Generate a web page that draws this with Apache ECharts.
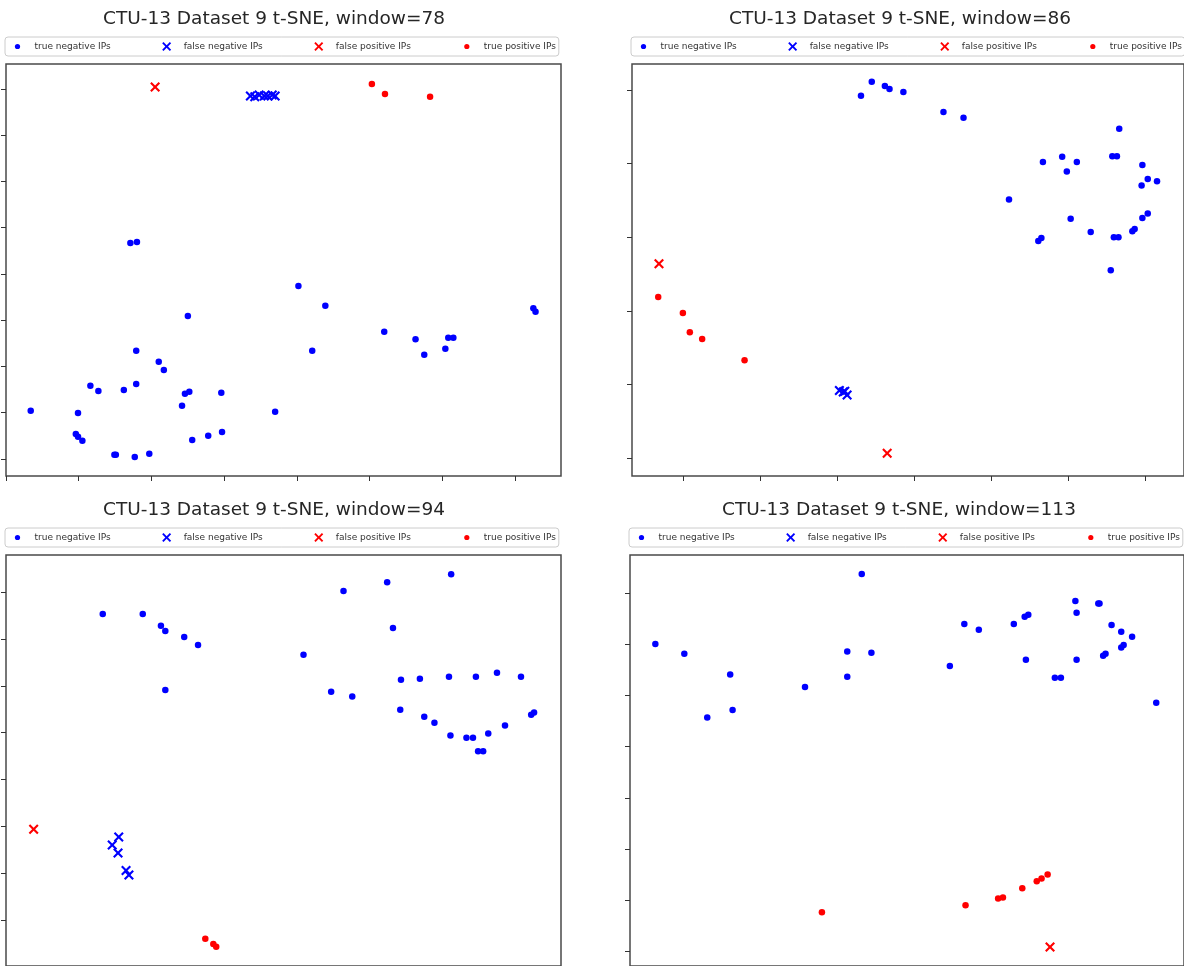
<!DOCTYPE html>
<html>
<head>
<meta charset="utf-8">
<title>CTU-13 Dataset 9 t-SNE</title>
<script src="https://cdn.jsdelivr.net/npm/echarts@6/dist/echarts.min.js"></script>
<style>
  html, body { margin: 0; padding: 0; background: #ffffff; }
  #chart { width: 1184px; height: 966px; }
</style>
</head>
<body>
<div id="chart"></div>
<script>
// ---- t-SNE embeddings per window size ----
const windows = [78, 86, 94, 113];
const classNames = ['true negative IPs', 'false negative IPs', 'false positive IPs', 'true positive IPs'];

const w78TrueNeg = [[-36.6,-29.6],[-30.1,-30.1],[-30.4,-34.6],[-30.1,-35.2],[-29.5,-36.1],[-28.4,-24.2],[-27.3,-25.3],[-25.1,-39.1],[-24.9,-39.1],[-23.8,-25.1],[-22.3,-39.6],[-22.1,-23.8],[-22.1,-16.6],[-22.9,6.7],[-22.0,6.9],[-20.3,-38.9],[-19.0,-19.0],[-18.3,-20.8],[-15.8,-28.5],[-15.4,-25.9],[-14.8,-25.5],[-15.0,-9.1],[-14.4,-35.9],[-12.2,-35.0],[-10.4,-25.7],[-10.3,-34.2],[-3.0,-29.8],[0.2,-2.6],[3.9,-6.9],[2.1,-16.6],[12.0,-12.5],[16.3,-14.1],[17.5,-17.5],[20.4,-16.2],[20.8,-13.8],[21.5,-13.8],[32.5,-7.4],[32.8,-8.2]];
const w78FalseNeg = [[-6.4,38.5],[-5.8,38.3],[-5.2,38.7],[-4.5,38.5],[-4.0,38.5],[-3.4,38.7],[-3.0,38.5]];
const w78FalsePos = [[-19.5,40.4]];
const w78TruePos = [[10.3,41.1],[12.1,38.9],[18.3,38.3]];

const w86TrueNeg = [[-6.9,29.2],[-5.5,31.1],[-3.8,30.5],[-3.2,30.1],[-1.4,29.7],[3.8,27.0],[6.4,26.2],[12.3,15.1],[16.1,9.5],[16.5,9.9],[16.7,20.2],[19.2,20.9],[19.8,18.9],[21.1,20.2],[20.3,12.5],[22.9,10.7],[25.5,5.5],[25.9,10.0],[26.5,10.0],[25.7,21.0],[26.3,21.0],[26.6,24.7],[28.3,10.8],[28.6,11.1],[29.6,12.6],[30.3,13.2],[29.6,19.8],[29.5,17.0],[30.3,17.9],[31.5,17.6]];
const w86FalseNeg = [[-9.7,-10.8],[-9.2,-11.0],[-8.7,-11.4],[-9.0,-10.9]];
const w86FalsePos = [[-33.1,6.4],[-3.5,-19.3]];
const w86TruePos = [[-33.2,1.9],[-30.0,-0.3],[-29.1,-2.9],[-27.5,-3.8],[-22.0,-6.7]];

const w94TrueNeg = [[-26.7,35.3],[-21.2,35.3],[-18.7,32.8],[-18.1,31.7],[-15.5,30.4],[-13.6,28.7],[-18.1,19.1],[0.9,26.6],[6.4,40.2],[12.4,42.1],[13.2,32.3],[21.2,43.8],[4.7,18.7],[7.6,17.7],[14.3,21.3],[16.9,21.5],[20.9,21.9],[24.6,21.9],[27.5,22.8],[30.8,21.9],[14.2,14.9],[17.5,13.4],[18.9,12.1],[21.1,9.4],[23.3,8.9],[24.2,8.9],[24.9,6.0],[25.6,6.0],[26.3,9.8],[28.6,11.5],[32.2,13.8],[32.6,14.3]];
const w94FalseNeg = [[-24.5,-12.3],[-25.4,-14.0],[-24.6,-15.7],[-23.5,-19.4],[-23.1,-20.4]];
const w94FalsePos = [[-36.2,-10.6]];
const w94TruePos = [[-12.6,-34.0],[-11.5,-35.1],[-11.1,-35.7]];

const w113TrueNeg = [[-18.5,30.1],[-16.1,28.2],[-12.3,24.1],[-14.2,15.7],[-12.1,17.2],[-6.1,21.7],[-2.6,28.6],[-2.6,23.7],[-0.6,28.4],[-1.4,43.8],[5.9,25.8],[7.1,34.0],[8.3,32.9],[11.2,34.0],[12.1,35.4],[12.4,35.8],[12.2,27.0],[14.6,23.5],[15.1,23.5],[16.3,38.5],[16.4,36.2],[16.4,27.0],[18.2,38.0],[18.3,38.0],[18.6,27.8],[18.8,28.2],[19.3,33.8],[20.1,32.5],[20.3,29.9],[20.1,29.4],[21.0,31.5],[23.0,18.6]];
const w113FalseNeg = [];
const w113FalsePos = [[14.2,-29.2]];
const w113TruePos = [[-4.7,-22.4],[7.2,-21.0],[9.9,-19.7],[10.3,-19.5],[11.9,-17.7],[13.1,-16.3],[13.5,-15.8],[14.0,-15.0]];

// axis extents and tick positions (tick labels are not shown)
const xRanges = [[-40, 36.3], [-36.6, 35.0], [-40, 36.3], [-20.6, 25.3]];
const yRanges = [[-43.7, 45.4], [-22.4, 33.5], [-39.8, 47.9], [-32.9, 47.5]];
const xTicks = [[-40,-30,-20,-10,0,10,20,30], [-30,-20,-10,0,10,20,30], [-40,-30,-20,-10,0,10,20,30], [-20,-10,0,10,20]];
const yTicks = [[-40,-30,-20,-10,0,10,20,30,40], [-20,-10,0,10,20,30], [-30,-20,-10,0,10,20,30,40], [-30,-20,-10,0,10,20,30,40]];

const panelData = [
  [w78TrueNeg, w78FalseNeg, w78FalsePos, w78TruePos],
  [w86TrueNeg, w86FalseNeg, w86FalsePos, w86TruePos],
  [w94TrueNeg, w94FalseNeg, w94FalsePos, w94TruePos],
  [w113TrueNeg, w113FalseNeg, w113FalsePos, w113TruePos]
];

// ---- panel placement ----
const panelBoxes = [
  { left: 6,   top: 64,  width: 555, height: 412 },
  { left: 632, top: 64,  width: 555, height: 412 },
  { left: 6,   top: 555, width: 555, height: 412 },
  { left: 630, top: 555, width: 555, height: 412 }
];
const titleCenters = [274, 900, 274, 899];

const BLUE = '#0000ff';
const RED = '#ff0000';
const crossIcon = 'path://M1.5,0L5,3.5L8.5,0L10,1.5L6.5,5L10,8.5L8.5,10L5,6.5L1.5,10L0,8.5L3.5,5L0,1.5Z';
// small dot inside a 10x10 frame, so legend dots stay smaller than legend crosses
const legendDot = 'path://M0,0M10,10M5,2.1A2.9,2.9,0,1,1,5,7.9A2.9,2.9,0,1,1,5,2.1Z';
const classStyle = [
  { symbol: 'circle', legendIcon: legendDot, size: 6.5, color: BLUE },
  { symbol: crossIcon, legendIcon: crossIcon, size: 10, color: BLUE },
  { symbol: crossIcon, legendIcon: crossIcon, size: 10, color: RED },
  { symbol: 'circle', legendIcon: legendDot, size: 6.5, color: RED }
];

const FONT = 'DejaVu Sans';
const option = {
  animation: false,
  backgroundColor: '#ffffff',
  title: [], legend: [], grid: [], xAxis: [], yAxis: [], series: []
};

panelBoxes.forEach((box, i) => {
  option.title.push({
    text: 'CTU-13 Dataset 9 t-SNE, window=' + windows[i],
    left: titleCenters[i],
    top: box.top - 56,
    textAlign: 'center',
    padding: 0,
    textStyle: { fontFamily: FONT, fontSize: 18.5, fontWeight: 'normal', color: '#262626', lineHeight: 22 }
  });
  option.legend.push({
    left: box.left - 1,
    top: box.top - 27,
    width: 560,
    orient: 'horizontal',
    padding: [4, 1, 4, 8],
    itemWidth: 24,
    itemHeight: 9,
    itemGap: 51.5,
    selectedMode: false,
    backgroundColor: '#ffffff',
    borderColor: '#cccccc',
    borderWidth: 1,
    borderRadius: 3,
    data: classNames.map((n, k) => ({ name: n, icon: classStyle[k].legendIcon })),
    formatter: '{t|{name}}',
    textStyle: {
      fontFamily: FONT, fontSize: 9, color: '#333333', lineHeight: 11,
      rich: { t: { width: 74, fontFamily: FONT, fontSize: 9, color: '#333333', lineHeight: 11 } }
    }
  });
  option.grid.push({
    left: box.left, top: box.top, width: box.width, height: box.height,
    show: true, borderColor: '#4a4a4a', borderWidth: 1.5, backgroundColor: 'transparent'
  });
  const tickStyle = { show: true, inside: false, length: 5, lineStyle: { color: '#333333', width: 1 } };
  option.xAxis.push({
    type: 'value', gridIndex: i, min: xRanges[i][0], max: xRanges[i][1],
    axisLine: { show: false, onZero: false },
    axisTick: Object.assign({ customValues: xTicks[i] }, tickStyle),
    axisLabel: { show: false }, splitLine: { show: false }
  });
  option.yAxis.push({
    type: 'value', gridIndex: i, min: yRanges[i][0], max: yRanges[i][1],
    axisLine: { show: false, onZero: false },
    axisTick: Object.assign({ customValues: yTicks[i] }, tickStyle),
    axisLabel: { show: false }, splitLine: { show: false }
  });
  classNames.forEach((name, k) => {
    option.series.push({
      type: 'scatter', name: name, xAxisIndex: i, yAxisIndex: i,
      symbol: classStyle[k].symbol, symbolSize: classStyle[k].size,
      itemStyle: { color: classStyle[k].color, opacity: 1 },
      emphasis: { disabled: true },
      data: panelData[i][k]
    });
  });
});

const chart = echarts.init(document.getElementById('chart'), null, { renderer: 'canvas' });
chart.setOption(option);
</script>
</body>
</html>
